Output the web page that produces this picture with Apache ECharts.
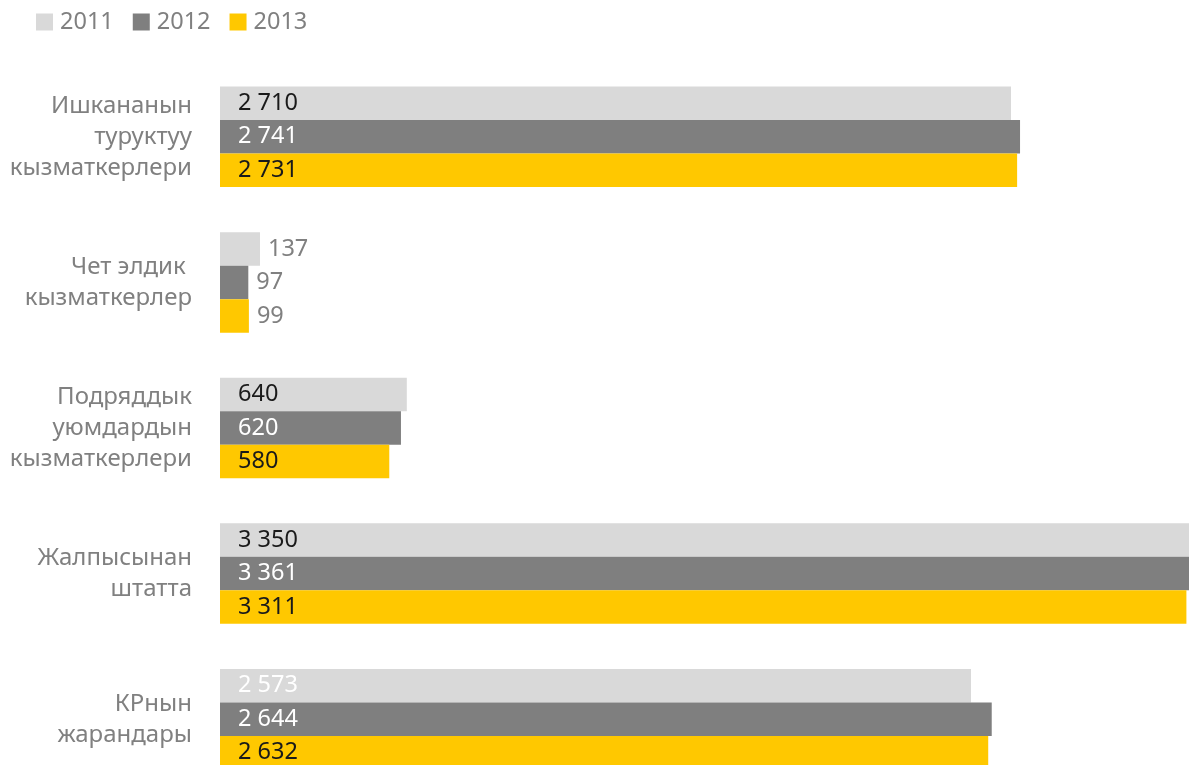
<!DOCTYPE html>
<html>
<head>
<meta charset="utf-8">
<script src="https://cdn.jsdelivr.net/npm/echarts@6/dist/echarts.min.js"></script>
<style>
  html, body { margin: 0; padding: 0; background: #fff; }
  #chart { width: 1189px; height: 765px; }
</style>
</head>
<body>
<div id="chart"></div>
<script>
const categories = [
  'Ишкананын\nтуруктуу\nкызматкерлери',
  'Чет элдик \nкызматкерлер',
  'Подряддык\nуюмдардын\nкызматкерлери',
  'Жалпысынан\nштатта',
  'КРнын\nжарандары'
]
const years = ['2011', '2012', '2013']
const values2011 = [2710, 137, 640, 3350, 2573]
const values2012 = [2741, 97, 620, 3361, 2644]
const values2013 = [2731, 99, 580, 3311, 2632]

const colors = ['#d9d9d9', '#7f7f7f', '#ffc800']
const labelColors = ['#1a1a1a', '#ffffff', '#1a1a1a']
const FONT = '"Noto Sans", sans-serif'

// пробел между тысячами: 2710 -> "2 710"
function fmt (v) {
  return String(v).replace(/\B(?=(\d{3})+(?!\d))/g, ' ')
}

function buildData (vals, idx) {
  return vals.map(function (v, i) {
    // маленькие значения подписываются справа от столбика
    if (v < 300) {
      return { value: v, label: { position: 'right', distance: 8, color: '#808080' } }
    }
    // 2573 в оригинале белым по светло-серому
    if (idx === 0 && i === 4) {
      return { value: v, label: { color: '#ffffff' } }
    }
    return v
  })
}

const allSeries = [values2011, values2012, values2013].map(function (vals, idx) {
  return {
    name: years[idx],
    type: 'bar',
    barGap: '0%',
    barCategoryGap: '31%',
    itemStyle: { color: colors[idx] },
    label: {
      show: true,
      position: 'insideLeft',
      distance: 18,
      color: labelColors[idx],
      fontFamily: FONT,
      fontSize: 23.5,
      formatter: function (p) { return fmt(p.value) }
    },
    data: buildData(vals, idx)
  }
})

let myChart = echarts.init(document.getElementById('chart'))
myChart.setOption({
  animation: false,
  color: colors,
  legend: {
    left: 31,
    top: 5,
    icon: 'rect',
    itemWidth: 17,
    itemHeight: 17,
    itemGap: 19,
    textStyle: { color: '#808080', fontFamily: FONT, fontSize: 23.5, padding: [0, 0, 0, 2] },
    data: years
  },
  grid: {
    left: 220,
    right: -12,
    top: 64,
    height: 728,
    outerBoundsMode: 'none'
  },
  xAxis: {
    type: 'value',
    min: 0,
    max: 3361,
    show: false
  },
  yAxis: {
    type: 'category',
    inverse: true,
    data: categories,
    axisLine: { show: false },
    axisTick: { show: false },
    splitLine: { show: false },
    axisLabel: {
      margin: 28,
      color: '#808080',
      fontFamily: FONT,
      fontSize: 24,
      lineHeight: 31,
      align: 'right'
    }
  },
  series: allSeries
})
</script>
</body>
</html>
